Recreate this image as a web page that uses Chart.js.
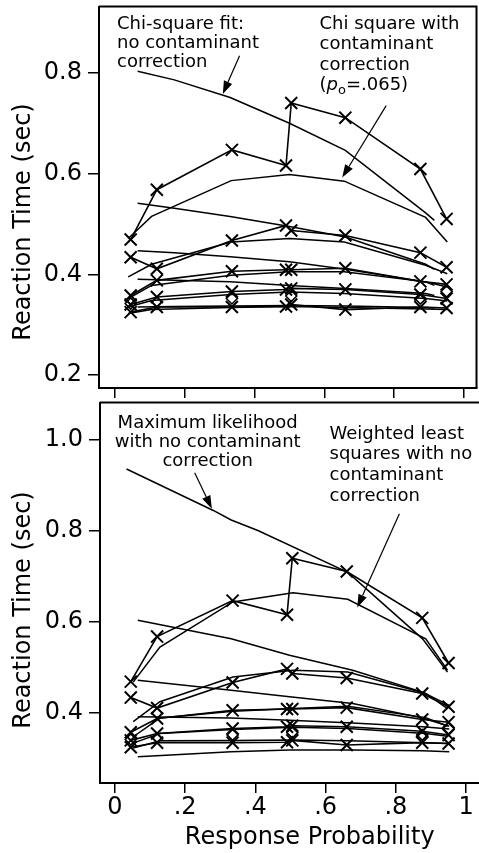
<!DOCTYPE html>
<html>
<head>
<meta charset="utf-8">
<script src="https://cdn.jsdelivr.net/npm/chart.js@4.4.1/dist/chart.umd.min.js"></script>
<style>
  html, body { margin: 0; padding: 0; background: #fff; overflow: hidden; }
  #wrap { position: relative; width: 479px; height: 853px; overflow: hidden; }
  canvas { position: absolute; left: 0; }
  /* the X markers make Chart.js keep ~9.5px free round the plot, so the canvases are shifted */
  #top { top: -4px; }
  #bottom { top: 392px; }
</style>
</head>
<body>
<div id="wrap">
  <canvas id="top" width="487" height="403"></canvas>
  <canvas id="bottom" width="530" height="461"></canvas>
</div>
<script>
// tick values / labels
const xTicks = [0, 0.2, 0.4, 0.6, 0.8, 1];
const xTickLabels = ['0', '.2', '.4', '.6', '.8', '1'];
const yTicksTop = [0.2, 0.4, 0.6, 0.8];
const yTicksBottom = [0.4, 0.6, 0.8, 1.0];

// observed data: response probability and RT quantiles (X symbols)
const dataP   = [0.045, 0.12, 0.335, 0.49, 0.505, 0.66, 0.875, 0.95];
const dataQ90 = [0.469, 0.568, 0.647, 0.616, 0.740, 0.711, 0.609, 0.510];
const dataQ70 = [0.434, 0.411, 0.467, 0.497, 0.487, 0.477, 0.443, 0.414];
const dataQ50 = [0.358, 0.388, 0.406, 0.409, 0.409, 0.412, 0.386, 0.380];
const dataQ30 = [0.340, 0.355, 0.366, 0.370, 0.372, 0.370, 0.360, 0.352];
const dataQ10 = [0.325, 0.335, 0.335, 0.336, 0.340, 0.330, 0.335, 0.333];
// diamond symbols
const diamondP  = [0.045, 0.335, 0.505, 0.875, 0.95];
const diamondRT = [0.342, 0.352, 0.357, 0.352, 0.366];

// top panel: chi-square fit, no contaminant correction
const chiNoP   = [0.065, 0.17, 0.33, 0.5, 0.66, 0.89, 0.915];
const chiNo90  = [0.803, 0.786, 0.751, 0.700, 0.646, 0.522, 0.507];
const chiNo70  = [0.541, 0.531, 0.515, 0.495, 0.474, 0.420, 0.410];
const chiNo50  = [0.447, 0.443, 0.435, 0.425, 0.410, 0.385, 0.378];
const chiNo30  = [0.390, 0.388, 0.385, 0.378, 0.372, 0.362, 0.358];
const chiNo10  = [0.335, 0.336, 0.337, 0.338, 0.337, 0.334, 0.333];
// top panel: chi square with contaminant correction
const chiCorP  = [0.038, 0.105, 0.333, 0.5, 0.657, 0.89, 0.952];
const chiCor90 = [0.471, 0.515, 0.586, 0.598, 0.585, 0.513, 0.464];
const chiCor70 = [0.395, 0.420, 0.464, 0.471, 0.464, 0.418, 0.401];
const chiCor50 = [0.352, 0.378, 0.398, 0.405, 0.405, 0.385, 0.375];
const chiCor30 = [0.335, 0.348, 0.360, 0.365, 0.362, 0.352, 0.347];
const chiCor10 = [0.322, 0.330, 0.334, 0.336, 0.334, 0.331, 0.330];

// bottom panel: maximum likelihood, no contaminant correction
const mlP90 = [0.033, 0.28, 0.331, 0.407, 0.663, 0.876, 0.947];
const ml90  = [0.936, 0.845, 0.824, 0.801, 0.709, 0.563, 0.490];
const mlP   = [0.065, 0.331, 0.497, 0.677, 0.876, 0.952];
const ml70  = [0.604, 0.563, 0.527, 0.494, 0.446, 0.417];
const ml50  = [0.472, 0.450, 0.436, 0.421, 0.389, 0.371];
const ml30  = [0.392, 0.389, 0.384, 0.378, 0.370, 0.365];
const ml10  = [0.304, 0.315, 0.319, 0.319, 0.317, 0.315];
// bottom panel: weighted least squares, no contaminant correction
const wlsP  = [0.052, 0.128, 0.336, 0.507, 0.663, 0.885, 0.947];
const wls90 = [0.468, 0.545, 0.644, 0.664, 0.650, 0.563, 0.494];
const wls70 = [0.381, 0.425, 0.479, 0.494, 0.490, 0.443, 0.410];
const wls50 = [0.348, 0.389, 0.404, 0.410, 0.415, 0.390, 0.371];
const wls30 = [0.334, 0.355, 0.364, 0.369, 0.366, 0.355, 0.349];
const wls10 = [0.323, 0.339, 0.340, 0.341, 0.339, 0.335, 0.333];

const FONT = 'DejaVu Sans';

function pts(xs, ys) {
    return xs.map((x, i) => ({x: x, y: ys[i]}));
}

function dataLine(ys) {
    return {
        data: pts(dataP, ys),
        showLine: true,
        borderColor: '#000',
        borderWidth: 1.6,
        pointStyle: 'crossRot',
        pointRadius: 8.5,
        pointBorderWidth: 2,
        pointBorderColor: '#000',
        backgroundColor: 'transparent'
    };
}

function modelLine(xs, ys) {
    return {
        data: pts(xs, ys),
        showLine: true,
        borderColor: '#000',
        borderWidth: 1.5,
        pointRadius: 0
    };
}

function diamonds() {
    return {
        data: pts(diamondP, diamondRT),
        showLine: false,
        pointStyle: 'rectRot',
        pointRadius: 5.5,
        pointBorderWidth: 1.6,
        pointBorderColor: '#000',
        backgroundColor: 'transparent'
    };
}

// frame, y title and the labelled arrows
const notesPlugin = {
    id: 'notes',
    afterDraw(chart, args, opts) {
        const ctx = chart.ctx;
        const a = chart.chartArea;
        const xs = chart.scales.x, ys = chart.scales.y;
        ctx.save();
        ctx.strokeStyle = '#000';
        ctx.lineWidth = 2;
        ctx.beginPath();
        ctx.moveTo(a.left, a.top);
        ctx.lineTo(a.right, a.top);
        if (opts.rightEdge) {
            ctx.lineTo(a.right, a.bottom);
        }
        ctx.stroke();

        ctx.fillStyle = '#000';
        ctx.font = '24px "' + FONT + '"';
        ctx.textAlign = 'center';
        ctx.textBaseline = 'middle';
        ctx.save();
        ctx.translate(opts.titleX, opts.titleY);
        ctx.rotate(-Math.PI / 2);
        ctx.fillText('Reaction Time (sec)', 0, 0);
        ctx.restore();

        ctx.font = '18px "' + FONT + '"';
        (opts.texts || []).forEach(t => {
            const px = xs.getPixelForValue(t.x);
            let py = ys.getPixelForValue(t.y);
            t.lines.forEach(line => {
                if (typeof line === 'string') {
                    ctx.textAlign = t.align;
                    ctx.fillText(line, px, py);
                } else {
                    // rich line: segments with italic / subscript
                    ctx.textAlign = 'left';
                    let cx = px;
                    line.forEach(seg => {
                        ctx.font = (seg.italic ? 'italic ' : '') + (seg.sub ? '13px' : '18px') + ' "' + FONT + '"';
                        ctx.fillText(seg.t, cx, py + (seg.sub ? 5 : 0));
                        cx += ctx.measureText(seg.t).width;
                    });
                    ctx.font = '18px "' + FONT + '"';
                }
                py += t.gap;
            });
        });

        (opts.arrows || []).forEach(ar => {
            const x1 = xs.getPixelForValue(ar.from[0]), y1 = ys.getPixelForValue(ar.from[1]);
            const x2 = xs.getPixelForValue(ar.to[0]), y2 = ys.getPixelForValue(ar.to[1]);
            const ang = Math.atan2(y2 - y1, x2 - x1);
            const len = 13, hw = 4.5;
            const bx = x2 - len * Math.cos(ang), by = y2 - len * Math.sin(ang);
            ctx.lineWidth = 1.2;
            ctx.beginPath();
            ctx.moveTo(x1, y1);
            ctx.lineTo(bx, by);
            ctx.stroke();
            ctx.beginPath();
            ctx.moveTo(x2, y2);
            ctx.lineTo(bx + hw * Math.sin(ang), by - hw * Math.cos(ang));
            ctx.lineTo(bx - hw * Math.sin(ang), by + hw * Math.cos(ang));
            ctx.closePath();
            ctx.fill();
        });
        ctx.restore();
    }
};

function axes(xMin, xMax, xHeight, showXLabels, yMin, yMax, yTicks, yWidth) {
    return {
        x: {
            type: 'linear',
            min: xMin,
            max: xMax,
            afterBuildTicks: s => { s.ticks = xTicks.map(v => ({value: v})); },
            afterFit: s => {
                s.height = xHeight;
                s.paddingLeft = 0; s.paddingRight = 0;
            },
            grid: {drawOnChartArea: false, drawTicks: true, tickLength: 10, color: '#000', lineWidth: 1.5},
            border: {display: true, color: '#000', width: 2},
            ticks: {
                display: showXLabels,
                padding: 0,
                color: '#000',
                font: {family: FONT, size: 24},
                callback: v => xTickLabels[xTicks.indexOf(v)]
            },
            title: {
                display: showXLabels,
                text: 'Response Probability',
                color: '#000',
                font: {family: FONT, size: 24},
                padding: {top: 0, bottom: 1}
            }
        },
        y: {
            type: 'linear',
            min: yMin,
            max: yMax,
            afterBuildTicks: s => { s.ticks = yTicks.map(v => ({value: v})); },
            afterFit: s => {
                s.width = yWidth;
                s.paddingTop = 0; s.paddingBottom = 0;
            },
            grid: {drawOnChartArea: false, drawTicks: true, tickLength: 11, color: '#000', lineWidth: 1.5},
            border: {display: true, color: '#000', width: 2},
            ticks: {
                padding: 6,
                color: '#000',
                font: {family: FONT, size: 24},
                callback: v => v.toFixed(1)
            }
        }
    };
}

new Chart(document.getElementById('top'), {
    type: 'scatter',
    data: {
        datasets: [
            modelLine(chiNoP, chiNo90), modelLine(chiNoP, chiNo70), modelLine(chiNoP, chiNo50),
            modelLine(chiNoP, chiNo30), modelLine(chiNoP, chiNo10),
            modelLine(chiCorP, chiCor90), modelLine(chiCorP, chiCor70), modelLine(chiCorP, chiCor50),
            modelLine(chiCorP, chiCor30), modelLine(chiCorP, chiCor10),
            dataLine(dataQ90), dataLine(dataQ70), dataLine(dataQ50), dataLine(dataQ30), dataLine(dataQ10),
            diamonds()
        ]
    },
    options: {
        responsive: false,
        animation: false,
        devicePixelRatio: 1,
        layout: {padding: 0},
        scales: axes(-0.0457, 1.0357, 11, false, 0.1743, 0.9317, yTicksTop, 99),
        plugins: {
            legend: {display: false},
            tooltip: {enabled: false},
            notes: {
                rightEdge: true,
                titleX: 24,
                titleY: 226,
                texts: [
                    {x: 0.006, y: 0.897, gap: 19, align: 'left',
                     lines: ['Chi-square fit:', 'no contaminant', 'correction']},
                    {x: 0.586, y: 0.897, gap: 20.5, align: 'left',
                     lines: ['Chi square with', 'contaminant', 'correction',
                             [{t: '('}, {t: 'p', italic: true}, {t: 'o', sub: true}, {t: '=.065)'}]]}
                ],
                arrows: [
                    {from: [0.357, 0.834], to: [0.309, 0.758]},
                    {from: [0.777, 0.735], to: [0.651, 0.592]}
                ]
            }
        }
    },
    plugins: [notesPlugin]
});

new Chart(document.getElementById('bottom'), {
    type: 'scatter',
    data: {
        datasets: [
            modelLine(mlP90, ml90), modelLine(mlP, ml70), modelLine(mlP, ml50),
            modelLine(mlP, ml30), modelLine(mlP, ml10),
            modelLine(wlsP, wls90), modelLine(wlsP, wls70), modelLine(wlsP, wls50),
            modelLine(wlsP, wls30), modelLine(wlsP, wls10),
            dataLine(dataQ90), dataLine(dataQ70), dataLine(dataQ50), dataLine(dataQ30), dataLine(dataQ10),
            diamonds()
        ]
    },
    options: {
        responsive: false,
        animation: false,
        devicePixelRatio: 1,
        layout: {padding: 0},
        scales: axes(-0.0426, 1.152, 70, true, 0.2464, 1.0821, yTicksBottom, 100),
        plugins: {
            legend: {display: false},
            tooltip: {enabled: false},
            notes: {
                rightEdge: false,
                titleX: 24,
                titleY: 218,
                texts: [
                    {x: 0.264, y: 1.037, gap: 19, align: 'center',
                     lines: ['Maximum likelihood', 'with no contaminant', 'correction']},
                    {x: 0.611, y: 1.013, gap: 20.7, align: 'left',
                     lines: ['Weighted least', 'squares with no', 'contaminant', 'correction']}
                ],
                arrows: [
                    {from: [0.227, 0.928], to: [0.276, 0.849]},
                    {from: [0.810, 0.838], to: [0.690, 0.632]}
                ]
            }
        }
    },
    plugins: [notesPlugin]
});
</script>
</body>
</html>
